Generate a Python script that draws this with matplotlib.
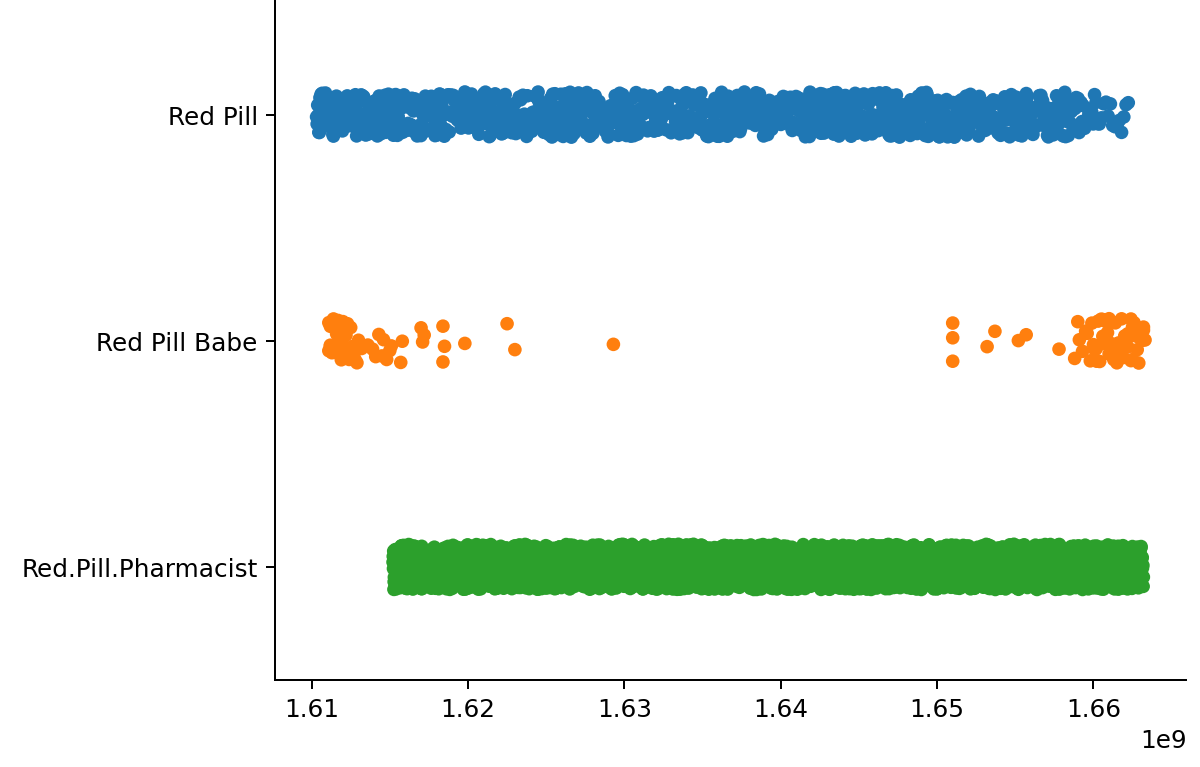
import numpy as np
import pandas as pd
import matplotlib
matplotlib.use("Agg")
import matplotlib.pyplot as plt
import seaborn as sns

categories = ["Red Pill", "Red Pill Babe", "Red.Pill.Pharmacist"]

# Timestamps are in millions of seconds (x1e6 gives unix seconds).
# Dense strips: points per 1 Ms bin, read from the strip density.
bin_width = 1.0
red_pill_start = 1610.3
red_pill_counts = [28, 26, 25, 27, 22, 19, 21, 21, 19, 21,
                   19, 24, 19, 21, 19, 21, 24, 21, 19, 21,
                   21, 19, 21, 19, 21, 19, 19, 17, 19, 19,
                   17, 27, 27, 27, 27, 25, 27, 25, 27, 25,
                   25, 21, 21, 19, 19, 21, 19, 19, 16, 11,
                   7, 7]

pharmacist_start = 1615.2
pharmacist_counts = [70, 60, 50, 68, 72, 70, 72, 70, 72, 70,
                     72, 70, 72, 70, 72, 70, 72, 70, 72, 70,
                     72, 70, 72, 70, 72, 70, 72, 70, 72, 75,
                     75, 75, 75, 75, 75, 75, 75, 75, 75, 75,
                     72, 70, 72, 70, 72, 70, 72, 70]

# Sparse strip: individual timestamps.
babe_values = [
    1611.1, 1611.2, 1611.3, 1611.4, 1611.5, 1611.6, 1611.7, 1611.8, 1611.9, 1612.0,
    1611.2, 1611.4, 1611.6, 1611.8, 1612.0, 1612.2, 1612.4, 1612.6, 1612.8, 1613.0,
    1611.3, 1611.5, 1611.7, 1612.1, 1612.3, 1612.5, 1612.9, 1613.2, 1611.1, 1611.9,
    1611.2, 1611.5, 1611.8, 1612.1, 1612.4, 1612.7,
    1613.6, 1613.9, 1614.1, 1614.3, 1614.5, 1614.6, 1614.8, 1615.0,
    1615.1, 1615.7, 1615.8, 1617.0, 1617.1, 1617.2, 1618.4, 1618.4, 1618.5,
    1619.8, 1622.5, 1623.0, 1629.3,
    1651.0, 1651.0, 1651.0, 1653.2, 1653.7, 1655.2, 1655.7, 1657.8,
    1658.8, 1659.0, 1659.1, 1659.3, 1659.5, 1659.6, 1659.8, 1659.9, 1660.0, 1660.1,
    1660.2, 1660.3, 1660.4, 1660.5, 1660.6, 1660.7, 1660.8, 1660.9, 1661.0, 1661.1,
    1661.2, 1661.3, 1661.4, 1661.5, 1661.6, 1661.7, 1661.8, 1661.9, 1662.0, 1662.1,
    1662.2, 1662.3, 1662.4, 1662.5, 1662.6, 1662.7, 1662.8, 1662.9, 1663.0, 1663.1,
    1663.2, 1663.3, 1660.2, 1660.6, 1661.0, 1661.4, 1661.8, 1662.2, 1662.6, 1663.0,
    1661.2, 1662.0, 1662.4, 1662.8, 1663.2, 1661.6, 1660.8, 1662.5,
]


def expand_bins(start, counts):
    # spread each bin's count across that bin
    out = []
    for i, n in enumerate(counts):
        lo = start + i * bin_width
        out.extend(np.linspace(lo, lo + bin_width, n, endpoint=False) + bin_width / (2 * n))
    return np.array(out)


red_pill = expand_bins(red_pill_start, red_pill_counts)
pharmacist = expand_bins(pharmacist_start, pharmacist_counts)
babe = np.array(babe_values)

df = pd.concat([
    pd.DataFrame({"time": red_pill * 1e6, "author": categories[0]}),
    pd.DataFrame({"time": babe * 1e6, "author": categories[1]}),
    pd.DataFrame({"time": pharmacist * 1e6, "author": categories[2]}),
], ignore_index=True)

np.random.seed(3)

dpi = 178
fig, ax = plt.subplots(figsize=(1200.5 / dpi, 767.5 / dpi), dpi=dpi)
fig.subplots_adjust(left=0.2292, right=0.9883, bottom=0.1134, top=0.9974)

sns.stripplot(data=df, x="time", y="author", hue="author", order=categories,
              hue_order=categories, palette=["#1f77b4", "#ff7f0e", "#2ca02c"],
              jitter=0.1, size=5.5, linewidth=0, legend=False, ax=ax)

ax.set_xlabel("")
ax.set_ylabel("")
ax.spines["top"].set_visible(False)
ax.spines["right"].set_visible(False)

fig.savefig("out.png", dpi=dpi)
